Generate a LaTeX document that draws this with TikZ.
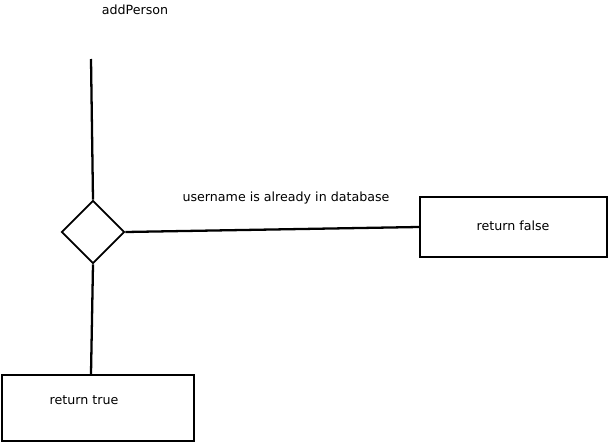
\documentclass[tikz,border=0pt]{standalone}
\usepackage{fontspec}
\setmainfont{DejaVu Sans}
\usetikzlibrary{shapes.geometric}

\begin{document}
\begin{tikzpicture}[x=0.02cm,y=-0.02cm,
    every node/.style={font=\fontsize{7.2}{8}\selectfont,inner sep=0},
    box/.style={draw,line width=1.3pt,rectangle},
    choice/.style={draw,diamond,line width=1pt,minimum width=1.26cm,minimum height=1.26cm,aspect=1}]
        \useasboundingbox (0,0) rectangle (609,443);
        \node (title) at (135,10) {addPerson};
        \coordinate (start) at (91,59);
        \node[choice] (dia) at (93,232) {};
        \node[box,minimum width=3.74cm,minimum height=1.2cm] (false) at (513.5,227) {};
        \node (falsetxt) at (513,226) {return false};
        \node[box,minimum width=3.84cm,minimum height=1.32cm] (true) at (98,408) {};
        \node (truetxt) at (84,400) {return true};
        \node (cond) at (286,198) {username is already in database};
        \draw[line width=1.3pt] (start) -- (dia.north) (dia.east) -- (false.west) (dia.south) -- (true.north -| start);
      \end{tikzpicture}
\end{document}
